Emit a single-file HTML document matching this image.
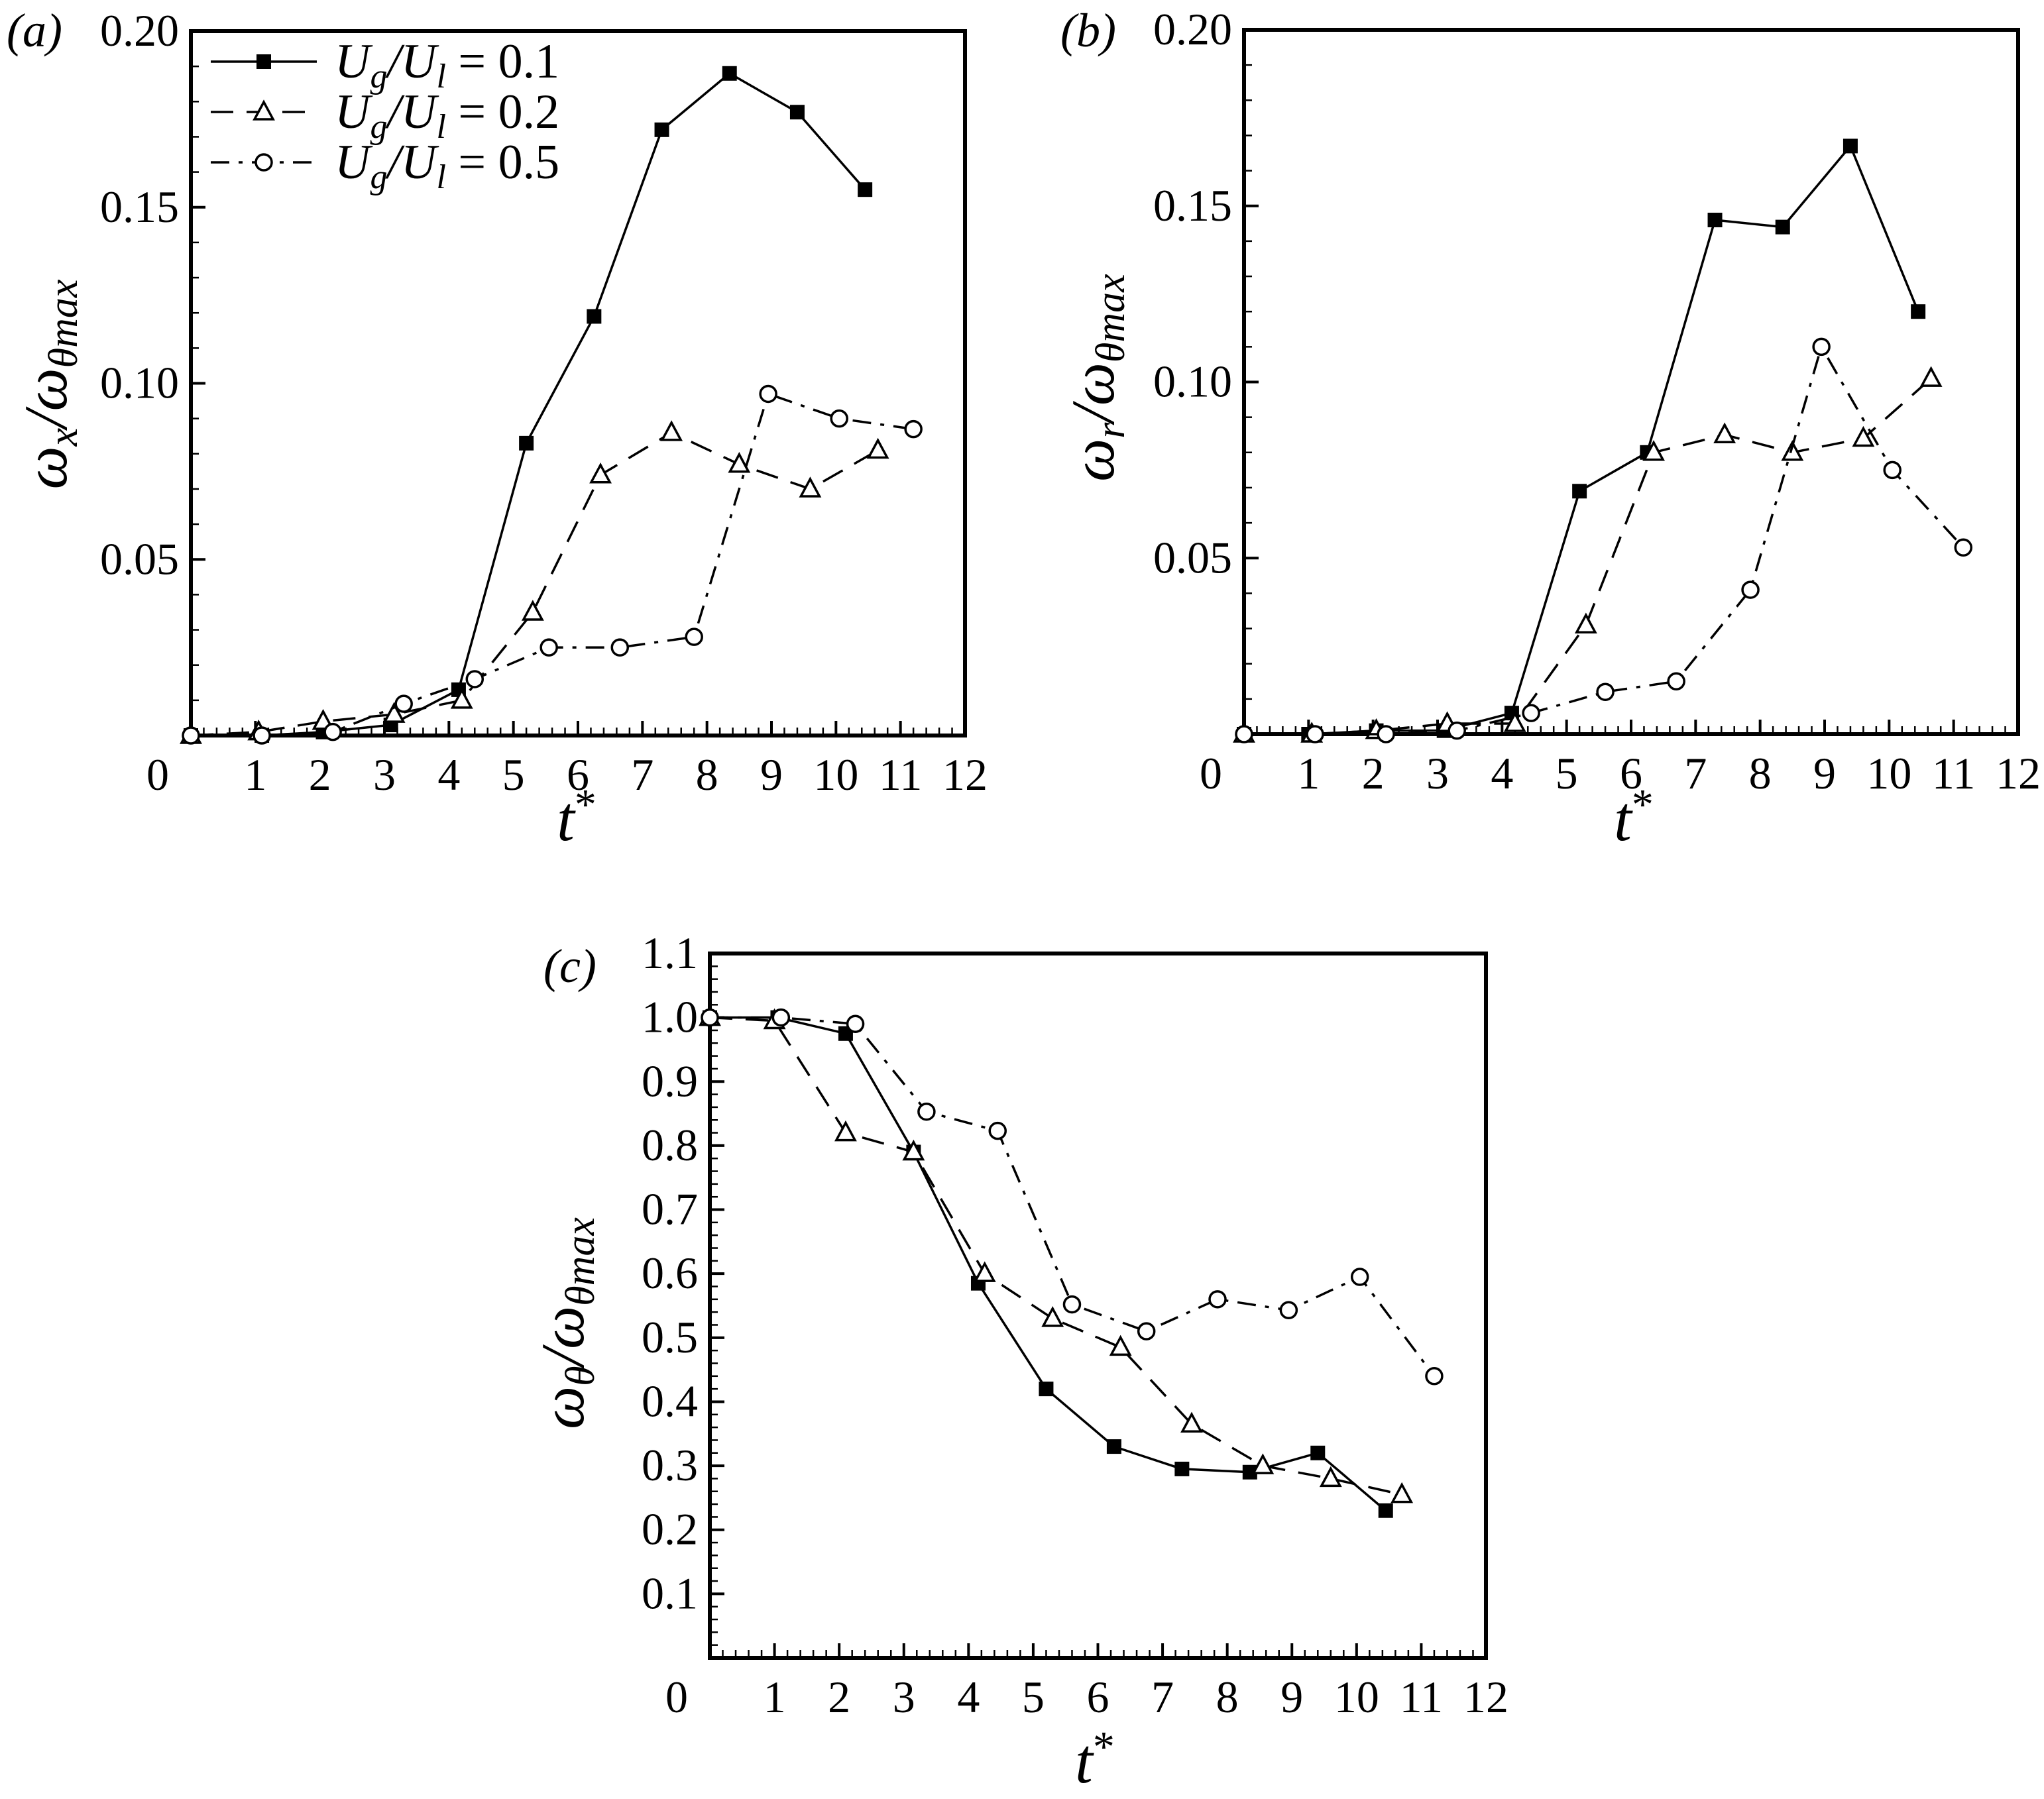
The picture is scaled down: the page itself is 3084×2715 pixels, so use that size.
<!DOCTYPE html>
<html><head><meta charset="utf-8"><style>
html,body{margin:0;padding:0;background:#fff}
svg,text{font-family:"Liberation Serif",serif}
</style></head><body>
<svg id="fig" xmlns="http://www.w3.org/2000/svg" width="3084" height="2710" viewBox="0 0 3084 2710">
<rect width="3084" height="2710" fill="#fff"/>
</svg>
<script>
// ---- data ----
const aSqT=[0,1.1,2.05,3.1,4.15,5.2,6.25,7.3,8.35,9.4,10.45];
const aSqV=[0,0,0.001,0.003,0.013,0.083,0.119,0.172,0.188,0.177,0.155];
const aTrT=[0,1.05,2.05,3.15,4.2,5.3,6.35,7.45,8.5,9.6,10.65];
const aTrV=[0,0.001,0.004,0.006,0.01,0.035,0.074,0.086,0.077,0.07,0.081];
const aCiT=[0,1.1,2.2,3.3,4.4,5.55,6.65,7.8,8.95,10.05,11.2];
const aCiV=[0,0,0.001,0.009,0.016,0.025,0.025,0.028,0.097,0.09,0.087];
const bSqT=[0,1.0,2.05,3.1,4.15,5.2,6.25,7.3,8.35,9.4,10.45];
const bSqV=[0,0,0.001,0.001,0.006,0.069,0.08,0.146,0.144,0.167,0.12];
const bTrT=[0,1.05,2.05,3.15,4.2,5.3,6.35,7.45,8.5,9.6,10.65];
const bTrV=[0,0,0.001,0.003,0.003,0.031,0.08,0.085,0.08,0.084,0.101];
const bCiT=[0,1.1,2.2,3.3,4.45,5.6,6.7,7.85,8.95,10.05,11.15];
const bCiV=[0,0,0,0.001,0.006,0.012,0.015,0.041,0.11,0.075,0.053];
const cSqT=[0,1.05,2.1,3.15,4.15,5.2,6.25,7.3,8.35,9.4,10.45];
const cSqV=[1.0,1.0,0.975,0.79,0.585,0.42,0.33,0.295,0.29,0.32,0.23];
const cTrT=[0,1.0,2.1,3.15,4.25,5.3,6.35,7.45,8.55,9.6,10.7];
const cTrV=[1.0,0.995,0.82,0.79,0.6,0.53,0.485,0.365,0.3,0.28,0.255];
const cCiT=[0,1.1,2.25,3.35,4.45,5.6,6.75,7.85,8.95,10.05,11.2];
const cCiV=[1.0,1.0,0.99,0.853,0.823,0.552,0.51,0.56,0.543,0.595,0.44];
const xTicks=[0,1,2,3,4,5,6,7,8,9,10,11,12];
const abYTicks=[0.05,0.10,0.15,0.20];
const cYTicks=[0.1,0.2,0.3,0.4,0.5,0.6,0.7,0.8,0.9,1.0,1.1];
const legendLabels=["0.1","0.2","0.5"];

const NS="http://www.w3.org/2000/svg";
const svg=document.getElementById('fig');
function mk(tag,attrs,parent){const e=document.createElementNS(NS,tag);for(const k in attrs)e.setAttribute(k,attrs[k]);(parent||svg).appendChild(e);return e;}

const DASH={sq:"none",tr:"34,20",ci:"28,14,6,14"};
function marker(g,type,x,y){
  let m;
  if(type==='sq'){m=mk('rect',{x:x-11,y:y-11,width:22,height:22,fill:'#000'},g);}
  else if(type==='tr'){m=mk('polygon',{points:`${x},${y-15} ${x-14},${y+11} ${x+14},${y+11}`,fill:'#fff',stroke:'#000','stroke-width':3.5},g);}
  else {m=mk('circle',{cx:x,cy:y,r:12,fill:'#fff',stroke:'#000','stroke-width':3.5},g);}
  
  
}

function panel(o){
  const g=mk('g',{});
  
  
  const X=t=>o.x0+(o.x1-o.x0)*t/12;
  const Y=v=>o.y1-(o.y1-o.y0)*v/o.ymax;
  for(let t=0.2;t<12;t+=0.2){const isMaj=Math.abs(t-Math.round(t))<1e-6;const l=isMaj?22:12;
    mk('line',{x1:X(t),x2:X(t),y1:o.y1,y2:o.y1-l,stroke:'#000','stroke-width':isMaj?4:2.5},g);}
  for(let v=o.ymin;v<o.ymax-1e-9;v+=o.ymin){const isMaj=Math.abs(v/o.ymaj-Math.round(v/o.ymaj))<1e-6;const l=isMaj?22:12;
    mk('line',{x1:o.x0,x2:o.x0+l,y1:Y(v),y2:Y(v),stroke:'#000','stroke-width':isMaj?4:2.5},g);}
  const fr=mk('rect',{x:o.x0,y:o.y0,width:o.x1-o.x0,height:o.y1-o.y0,fill:'none',stroke:'#000','stroke-width':6},g);
  
  
  xTicks.forEach(t=>{const tx=mk('text',{x:t===0?X(0)-50:X(t),y:o.y1+82,'font-size':68,'text-anchor':'middle'},g);tx.textContent=String(t);
    
    });
  o.yt.forEach(v=>{const tx=mk('text',{x:o.x0-18,y:Y(v)+22,'font-size':68,'text-anchor':'end'},g);tx.textContent=v.toFixed(o.dec);
    
    });
  o.series.forEach(s=>{
    const sg=mk('g',{},g);
    
    
    const pts=s.t.map((t,i)=>X(t)+','+Y(s.v[i])).join(' ');
    mk('polyline',{points:pts,fill:'none',stroke:'#000','stroke-width':3.5,'stroke-dasharray':DASH[s.type]},sg);
    s.t.forEach((t,i)=>marker(sg,s.type,X(t),Y(s.v[i])));
  });
  const lab=mk('text',{x:o.lab[0],y:o.lab[1],'font-size':72,'font-style':'italic'},g);
  lab.textContent='('+o.letter+')';
  
  
  const yt=mk('text',{transform:`translate(${o.yl[0]},${o.yl[1]}) rotate(-90)`,'font-size':92,'font-style':'italic','text-anchor':'middle'},g);
  yt.innerHTML='ω<tspan font-size="62" dy="16">'+o.sub+'</tspan><tspan dy="-16">/ω</tspan><tspan font-size="62" dy="16">θmax</tspan>';
  
  
  const xt=mk('text',{x:o.xl[0],y:o.xl[1],'font-size':96,'font-style':'italic','text-anchor':'middle'},g);
  xt.innerHTML='t<tspan dy="-32" font-size="66" font-style="normal">*</tspan>';
  
  
  return {g,X,Y};
}

panel({name:'panel-a',letter:'a',x0:288,x1:1456,y0:47,y1:1110,ymax:0.2,ymin:0.01,ymaj:0.05,yt:abYTicks,dec:2,
  lab:[10,70],yl:[100,580],xl:[870,1268],sub:'x',
  series:[{type:'sq',t:aSqT,v:aSqV},{type:'tr',t:aTrT,v:aTrV},{type:'ci',t:aCiT,v:aCiV}]});
panel({name:'panel-b',letter:'b',x0:1877,x1:3045,y0:45,y1:1108,ymax:0.2,ymin:0.01,ymaj:0.05,yt:abYTicks,dec:2,
  lab:[1600,70],yl:[1680,570],xl:[2465,1268],sub:'r',
  series:[{type:'sq',t:bSqT,v:bSqV},{type:'tr',t:bTrT,v:bTrV},{type:'ci',t:bCiT,v:bCiV}]});
panel({name:'panel-c',letter:'c',x0:1071,x1:2242,y0:1439,y1:2502,ymax:1.1,ymin:0.02,ymaj:0.1,yt:cYTicks,dec:1,
  lab:[820,1482],yl:[880,1997],xl:[1652,2690],sub:'θ',
  series:[{type:'sq',t:cSqT,v:cSqV},{type:'tr',t:cTrT,v:cTrV},{type:'ci',t:cCiT,v:cCiV}]});

const lg=mk('g',{});


['sq','tr','ci'].forEach((tp,i)=>{
  const y=93+i*76;
  const e=mk('g',{},lg);
  
  
  mk('line',{x1:318,x2:478,y1:y,y2:y,stroke:'#000','stroke-width':3.5,'stroke-dasharray':DASH[tp]},e);
  marker(e,tp,398,y);
  const t=mk('text',{x:505,y:y+24,'font-size':74,'font-style':'italic'},e);
  t.innerHTML='U<tspan font-size="52" dy="15">g</tspan><tspan dy="-15">/U</tspan><tspan font-size="52" dy="15">l</tspan><tspan dy="-15" font-style="normal"> = '+legendLabels[i]+'</tspan>';
});
</script>
</body></html>
